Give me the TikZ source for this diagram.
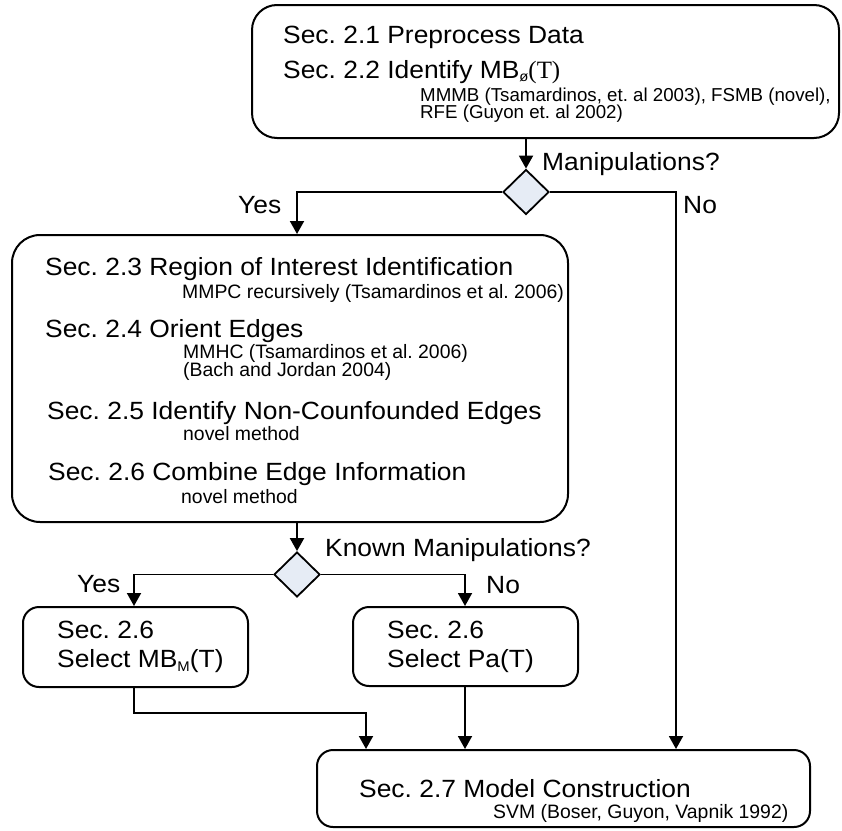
\documentclass[tikz,border=0pt]{standalone}
\usepackage{fontspec}
\setmainfont{Liberation Sans}
\newfontfamily\bigfont{Liberation Sans}[FakeStretch=1.06]
\newfontfamily\smallfont{Liberation Sans}
\newfontfamily\serifT{Liberation Serif}
\usetikzlibrary{shapes.geometric,arrows.meta}
\definecolor{decfill}{RGB}{230,236,245}
\tikzset{
  box/.style={draw, line width=2pt, rectangle, inner sep=0pt},
  decision/.style={draw, line width=1.8pt, diamond, fill=decfill, inner sep=0pt,
    minimum width=46pt, minimum height=45pt},
  arr/.style={line width=1.9pt, -{Triangle[length=13pt,width=14pt]}},
  bigtxt/.style={anchor=base west, inner sep=0pt, font=\bigfont\fontsize{24.9}{26}\selectfont},
  smalltxt/.style={anchor=base west, inner sep=0pt, font=\smallfont\fontsize{19.4}{19}\selectfont},
  toptxt/.style={anchor=base west, inner sep=0pt, font=\smallfont\fontsize{18.7}{19}\selectfont},
}
\begin{document}
\frenchspacing
\begin{tikzpicture}[x=1pt,y=-1pt]
\useasboundingbox (0,0) rectangle (842,830);

% boxes
\node[box, rounded corners=25pt, minimum width=587pt, minimum height=133pt] (top) at (545.5,71.5) {};
\node[box, rounded corners=28pt, minimum width=556pt, minimum height=287pt] (roi) at (290,378.5) {};
\node[box, rounded corners=16pt, minimum width=225pt, minimum height=80pt] (selmb) at (135.5,647) {};
\node[box, rounded corners=16pt, minimum width=225pt, minimum height=79pt] (selpa) at (465.5,646.5) {};
\node[box, rounded corners=16pt, minimum width=493pt, minimum height=77pt] (model) at (563.5,788.5) {};

% decisions
\node[decision] (d1) at (526,192) {};
\node[decision] (d2) at (297,574.5) {};

% corner points of the connectors
\coordinate (yes1) at (297,192);
\coordinate (no1) at (676,192);
\coordinate (yes2) at (134,574.5);
\coordinate (no2) at (465,574.5);
\coordinate (mbturn) at (134,713);
\coordinate (mbin) at (366,713);

% connectors
\draw[arr] (top.south -| d1.north) -- (d1.north);
\draw[arr] (d1.west) -- (yes1) -- (yes1 |- roi.north);
\draw[arr] (d1.east) -- (no1) -- (no1 |- model.north);
\draw[arr] (roi.south -| d2.north) -- (d2.north);
\draw[arr] (d2.west) -- (yes2) -- (yes2 |- selmb.north);
\draw[arr] (d2.east) -- (no2) -- (no2 |- selpa.north);
\draw[arr] (selmb.south -| mbturn) -- (mbturn) -- (mbin) -- (mbin |- model.north);
\draw[arr] (selpa.south -| no2) -- (no2 |- model.north);

% texts of the first box
\node[bigtxt] (t21) at (283,43) {Sec. 2.1 Preprocess Data};
\node[bigtxt] (t22) at (283,78) {Sec. 2.2 Identify MB{\fontsize{14}{14}\selectfont\raisebox{-3pt}{ø}}{\serifT(T)}};
\node[toptxt] (t22a) at (420,101) {MMMB (Tsamardinos, et. al 2003), FSMB (novel),};
\node[toptxt] (t22b) at (420,118) {RFE (Guyon et. al 2002)};

% decision labels
\node[bigtxt] (q1) at (542,170) {Manipulations?};
\node[bigtxt] (y1) at (238,213) {Yes};
\node[bigtxt] (n1) at (683,213) {No};

% texts of the second box
\node[bigtxt] (t23) at (45,275) {Sec. 2.3 Region of Interest Identification};
\node[smalltxt] (t23a) at (182,298) {MMPC recursively (Tsamardinos et al. 2006)};
\node[bigtxt] (t24) at (45,337) {Sec. 2.4 Orient Edges};
\node[smalltxt] (t24a) at (183,358) {MMHC (Tsamardinos et al. 2006)};
\node[smalltxt] (t24b) at (183,376) {(Bach and Jordan 2004)};
\node[bigtxt] (t25) at (47,419) {Sec. 2.5 Identify Non-Counfounded Edges};
\node[smalltxt] (t25a) at (183,440) {novel method};
\node[bigtxt] (t26) at (48,480) {Sec. 2.6 Combine Edge Information};
\node[smalltxt] (t26a) at (181,503) {novel method};

\node[bigtxt] (q2) at (325,556) {Known Manipulations?};
\node[bigtxt] (y2) at (77,592) {Yes};
\node[bigtxt] (n2) at (486,593) {No};

% selection boxes
\node[bigtxt] (s1a) at (57,638) {Sec. 2.6};
\node[bigtxt] (s1b) at (57,667) {Select MB{\fontsize{14}{14}\selectfont\raisebox{-4.5pt}{M}}(T)};
\node[bigtxt] (s2a) at (387,638) {Sec. 2.6};
\node[bigtxt] (s2b) at (387,667) {Select Pa(T)};

% last box
\node[bigtxt] (t27) at (359,797) {Sec. 2.7 Model Construction};
\node[smalltxt] (t27a) at (493,818) {SVM (Boser, Guyon, Vapnik 1992)};
\end{tikzpicture}
\end{document}
